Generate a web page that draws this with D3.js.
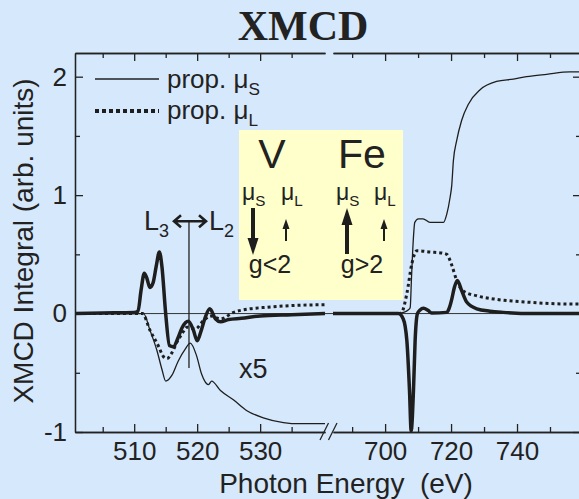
<!DOCTYPE html>
<html lang="en"><head>
<meta charset="utf-8">
<title>XMCD</title>
<script src="https://cdn.jsdelivr.net/npm/d3@7"></script>
<style>
body { margin: 0; background: #d6e8fb; }
text { font-family: "Liberation Sans", Arial, sans-serif; fill: #222; }
</style>
</head>
<body>
<script type="text/javascript">

// V L-edge (left segment)
var vSpinE = [500.6, 511.5, 512.5, 513.6, 514.4, 515.0, 516.0, 517.0, 518.1, 518.9, 519.9, 520.7, 521.8, 522.3, 523.7, 525.8, 527.9, 530.5, 533.7, 536.3, 540.3];
var vSpinY = [0, 0, -0.14, -0.31, -0.47, -0.57, -0.52, -0.40, -0.30, -0.25, -0.355, -0.51, -0.60, -0.57, -0.65, -0.73, -0.82, -0.88, -0.92, -0.93, -0.93];
var vOrbE = [500.6, 511.3, 512.5, 513.9, 514.6, 515.2, 516.0, 516.8, 517.6, 518.4, 519.7, 521.0, 522.1, 523.7, 525.8, 528.4, 531, 535.3, 540.3];
var vOrbY = [0, 0, -0.14, -0.28, -0.36, -0.38, -0.33, -0.24, -0.17, -0.115, -0.13, -0.06, -0.02, -0.045, 0.01, 0.04, 0.053, 0.068, 0.075];
var vXmcdE = [500.6, 505, 510, 510.6, 511.1, 511.6, 512.0, 512.5, 513.0, 513.5, 514.0, 514.4, 515.0, 515.6, 516.2, 517.0, 517.6, 518.6, 519.4, 520.0, 520.6, 521.3, 522.0, 522.9, 523.7, 525, 527, 530, 535, 540.3];
var vXmcdY = [0, 0.005, 0.01, 0.02, 0.2, 0.34, 0.30, 0.22, 0.26, 0.40, 0.52, 0.40, 0.0, -0.27, -0.28, -0.20, -0.12, -0.065, -0.14, -0.23, -0.15, -0.03, 0.04, -0.045, -0.07, -0.05, -0.04, -0.02, -0.01, 0];

// Fe L-edge (right segment)
var feSpinE = [684, 704, 705.5, 707.0, 707.6, 708.0, 708.5, 709.0, 710.1, 711.5, 713.6, 717.7, 718.7, 719.7, 720.2, 720.7, 721.7, 723.2, 725.3, 728.8, 733.8, 738.9, 742.9, 749, 756, 759.4];
var feSpinY = [0, 0, 0.01, 0.03, 0.05, 0.3, 0.6, 0.77, 0.80, 0.80, 0.77, 0.77, 0.84, 0.98, 1.08, 1.29, 1.46, 1.63, 1.77, 1.89, 1.96, 1.98, 2.0, 2.02, 2.04, 2.04];
var feOrbE = [684, 704, 705.0, 706.6, 708.1, 709.6, 713.6, 717.5, 718.7, 720.2, 721.7, 723.7, 727.8, 733.8, 743.9, 756, 759.4];
var feOrbY = [0, 0, 0.01, 0.17, 0.42, 0.53, 0.52, 0.51, 0.50, 0.41, 0.28, 0.19, 0.15, 0.12, 0.095, 0.08, 0.08];
var feXmcdE = [684, 700, 704.0, 705.5, 706.6, 707.4, 707.9, 708.6, 709.1, 709.8, 710.6, 711.6, 713.1, 714.1, 718.7, 719.5, 720.2, 721.0, 721.9, 723.2, 724.8, 727.8, 731.8, 735.8, 745, 759.4];
var feXmcdY = [0, 0, 0, -0.045, -0.23, -0.65, -0.99, -0.65, -0.23, 0, 0.03, 0.045, 0.025, 0.005, 0.01, 0.05, 0.12, 0.22, 0.28, 0.195, 0.095, 0.04, 0.02, 0.01, 0, 0];

var yMajor = [2, 1, 0, -1];
var yMinor = [1.5, 0.5, -0.5];
var xLMajor = [510, 520, 530];
var xLMinor = [505, 515, 525, 535];
var xRMajor = [700, 720, 740];
var xRMinor = [690, 710, 730, 750];

var width = 579;
var height = 499;
var top_ = 53, bottom = 432, left = 75, right = 581, breakL = 325, breakR = 333;

var svg = d3.select("body").append("svg")
    .attr("width", width)
    .attr("height", height);

var xL = d3.scaleLinear().domain([500.6, 540.3]).range([left, breakL]);
var xR = d3.scaleLinear().domain([684.2, 759.4]).range([breakR, right]);
var y = d3.scaleLinear().domain([-1, 2.2]).range([bottom, top_]);

function zip(a, b) { return a.map((e, i) => [e, b[i]]); }

svg.append("clipPath").attr("id", "clipL")
    .append("rect").attr("x", left).attr("y", top_).attr("width", breakL - left).attr("height", bottom - top_);
svg.append("clipPath").attr("id", "clipR")
    .append("rect").attr("x", breakR).attr("y", top_).attr("width", right - breakR).attr("height", bottom - top_ + 2);

// zero line
svg.append("line")
    .attr("x1", left).attr("x2", right)
    .attr("y1", y(0)).attr("y2", y(0))
    .attr("stroke", "#333").attr("stroke-width", 1);

var styles = {
    orb: { w: 3, dash: "3,3" },
    spin: { w: 1.3, dash: null },
    xmcd: { w: 3.5, dash: null }
};

function drawSeg(xs, clip, series) {
    var line = d3.line().x(d => xs(d[0])).y(d => y(d[1])).curve(d3.curveMonotoneX);
    var g = svg.append("g").attr("clip-path", "url(#" + clip + ")");
    series.forEach(s => {
        g.append("path")
            .attr("d", line(s.data))
            .attr("fill", "none")
            .attr("stroke", "#1e1e1e")
            .attr("stroke-width", styles[s.k].w)
            .attr("stroke-dasharray", styles[s.k].dash)
            .attr("stroke-linejoin", "round");
    });
}

drawSeg(xL, "clipL", [
    { k: "orb", data: zip(vOrbE, vOrbY) },
    { k: "spin", data: zip(vSpinE, vSpinY) },
    { k: "xmcd", data: zip(vXmcdE, vXmcdY) }
]);
drawSeg(xR, "clipR", [
    { k: "orb", data: zip(feOrbE, feOrbY) },
    { k: "spin", data: zip(feSpinE, feSpinY) },
    { k: "xmcd", data: zip(feXmcdE, feXmcdY) }
]);

// axes
function styleAxis(g) {
    g.selectAll("path, line").attr("stroke", "#222").attr("stroke-width", 1.3);
    g.selectAll("text").style("font-family", "'Liberation Sans', Arial, sans-serif")
        .style("font-size", "26px").attr("fill", "#222");
}

[[xL, xLMajor, xLMinor], [xR, xRMajor, xRMinor]].forEach(a => {
    svg.append("g").attr("transform", `translate(0,${bottom})`)
        .call(d3.axisBottom(a[0]).tickValues(a[1]).tickSizeInner(-8).tickSizeOuter(0).tickPadding(10))
        .call(styleAxis);
    svg.append("g").attr("transform", `translate(0,${bottom})`)
        .call(d3.axisBottom(a[0]).tickValues(a[2]).tickSizeInner(-5).tickSizeOuter(0).tickFormat(""))
        .call(styleAxis);
    svg.append("g").attr("transform", `translate(0,${top_})`)
        .call(d3.axisTop(a[0]).tickValues(a[1]).tickSizeInner(-8).tickSizeOuter(0).tickFormat(""))
        .call(styleAxis);
    svg.append("g").attr("transform", `translate(0,${top_})`)
        .call(d3.axisTop(a[0]).tickValues(a[2]).tickSizeInner(-5).tickSizeOuter(0).tickFormat(""))
        .call(styleAxis);
});

svg.append("g").attr("transform", `translate(${left},0)`)
    .call(d3.axisLeft(y).tickValues(yMajor).tickSizeInner(-8).tickSizeOuter(0).tickPadding(8).tickFormat(d => d < 0 ? "-" + (-d) : d))
    .call(styleAxis);
svg.append("g").attr("transform", `translate(${left},0)`)
    .call(d3.axisLeft(y).tickValues(yMinor).tickSizeInner(-5).tickSizeOuter(0).tickFormat(""))
    .call(styleAxis);
svg.append("g").attr("transform", `translate(${right},0)`)
    .call(d3.axisRight(y).tickValues(yMajor).tickSizeInner(-8).tickSizeOuter(0).tickFormat(""))
    .call(styleAxis);
svg.append("g").attr("transform", `translate(${right},0)`)
    .call(d3.axisRight(y).tickValues(yMinor).tickSizeInner(-5).tickSizeOuter(0).tickFormat(""))
    .call(styleAxis);

// axis break marks
[0, 8.5].forEach(off => {
    svg.append("line")
        .attr("x1", 320 + off).attr("y1", bottom + 8)
        .attr("x2", 328.5 + off).attr("y2", bottom - 9)
        .attr("stroke", "#222").attr("stroke-width", 1.3);
});

// title and axis labels
svg.append("text")
    .attr("x", 303).attr("y", 40)
    .attr("text-anchor", "middle")
    .style("font-family", "'Liberation Serif', 'Times New Roman', serif")
    .style("font-weight", "bold")
    .style("font-size", "42px")
    .attr("fill", "#111")
    .text("XMCD");

svg.append("text")
    .attr("transform", "translate(33,241) rotate(-90)")
    .attr("text-anchor", "middle")
    .style("font-size", "28px")
    .text("XMCD Integral (arb. units)");

svg.append("text")
    .attr("x", 346).attr("y", 493)
    .attr("text-anchor", "middle")
    .style("font-size", "28px")
    .style("white-space", "pre")
    .text("Photon Energy  (eV)");

// legend
function muText(x, yy, size, sub, prefix) {
    var t = svg.append("text").attr("x", x).attr("y", yy).style("font-size", size + "px");
    t.append("tspan").text((prefix || "") + "\u03bc");
    t.append("tspan").attr("dy", size * 0.25).style("font-size", (size * 0.66) + "px").text(sub);
    return t;
}
svg.append("line").attr("x1", 95).attr("x2", 159).attr("y1", 79).attr("y2", 79)
    .attr("stroke", "#222").attr("stroke-width", 1.3);
svg.append("line").attr("x1", 95).attr("x2", 159).attr("y1", 111).attr("y2", 111)
    .attr("stroke", "#1e1e1e").attr("stroke-width", 4).attr("stroke-dasharray", "4,3");
muText(167, 88, 26, "S", "prop. ");
muText(167, 119, 26, "L", "prop. ");

// V / Fe box
svg.append("rect").attr("x", 239).attr("y", 130).attr("width", 164).attr("height", 170)
    .attr("fill", "#ffffcc");
svg.append("text").attr("x", 272).attr("y", 168).attr("text-anchor", "middle").style("font-size", "41px").text("V");
svg.append("text").attr("x", 362).attr("y", 168).attr("text-anchor", "middle").style("font-size", "41px").text("Fe");
muText(242, 200, 23, "S");
muText(281, 200, 23, "L");
muText(336, 200, 23, "S");
muText(374, 200, 23, "L");

function arrow(x, y1, y2, w, hw, hl) {
    var dir = y2 > y1 ? 1 : -1;
    svg.append("line").attr("x1", x).attr("x2", x).attr("y1", y1).attr("y2", y2 - dir * hl * 0.8)
        .attr("stroke", "#1e1e1e").attr("stroke-width", w);
    svg.append("path")
        .attr("d", `M${x - hw / 2},${y2 - dir * hl}L${x + hw / 2},${y2 - dir * hl}L${x},${y2}Z`)
        .attr("fill", "#1e1e1e");
}
arrow(253, 208, 255, 4, 11, 17);
arrow(286, 241, 219, 2, 7, 10);
arrow(347, 254, 208, 4, 11, 17);
arrow(384, 241, 219, 2, 7, 10);

svg.append("text").attr("x", 270).attr("y", 273).attr("text-anchor", "middle").style("font-size", "25px").text("g<2");
svg.append("text").attr("x", 362).attr("y", 273).attr("text-anchor", "middle").style("font-size", "25px").text("g>2");

// L3 <-> L2 annotation
var xMark = xL(518.7);
svg.append("line").attr("x1", xMark).attr("x2", xMark).attr("y1", y(0.78)).attr("y2", y(-0.46))
    .attr("stroke", "#222").attr("stroke-width", 1.3);
var ay = y(0.78);
svg.append("path")
    .attr("d", `M174,${ay}H206M181,${ay - 6}L174,${ay}L181,${ay + 6}M199,${ay - 6}L206,${ay}L199,${ay + 6}`)
    .attr("fill", "none").attr("stroke", "#1e1e1e").attr("stroke-width", 2.6);
var l3 = svg.append("text").attr("x", 144).attr("y", 230).style("font-size", "27px");
l3.append("tspan").text("L");
l3.append("tspan").attr("dy", 7).style("font-size", "18px").text("3");
var l2 = svg.append("text").attr("x", 209).attr("y", 230).style("font-size", "27px");
l2.append("tspan").text("L");
l2.append("tspan").attr("dy", 7).style("font-size", "18px").text("2");

svg.append("text").attr("x", 239).attr("y", 378).style("font-size", "27px").text("x5");

</script>
</body></html>
